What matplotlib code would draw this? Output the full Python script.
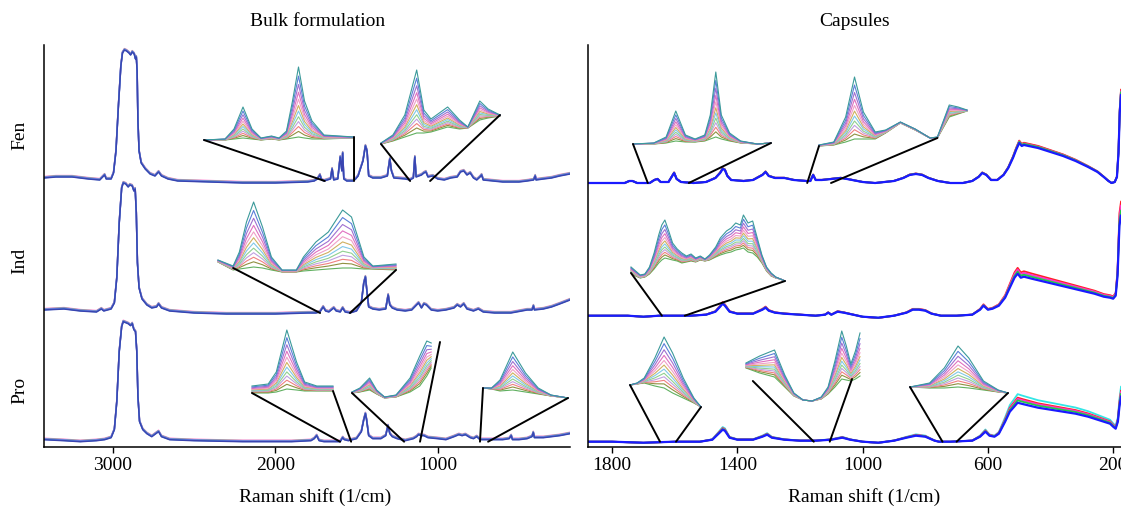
import matplotlib.pyplot as plt
import numpy as np
from matplotlib.patches import ConnectionPatch

plt.rcParams['font.family'] = ['Liberation Serif', 'DejaVu Serif']

W, H = 1121, 507

# ---------------- main spectra (wavenumber, height above baseline in px) ----------------
bulk_fen_w = [3423, 3350, 3250, 3150, 3080, 3062, 3050, 3040, 3010, 2995, 2980, 2965, 2950, 2940, 2928,
              2915, 2900, 2890, 2880, 2868, 2860, 2855, 2850, 2845, 2838, 2825, 2800, 2770, 2740, 2718,
              2700, 2660, 2600, 2400, 2200, 2000, 1800, 1760, 1740, 1725, 1715, 1700, 1660, 1650, 1640,
              1615, 1600, 1590, 1585, 1578, 1560, 1520, 1505, 1490, 1460, 1445, 1435, 1425, 1400, 1350,
              1310, 1295, 1285, 1270, 1200, 1170, 1150, 1141, 1133, 1100, 1085, 1073, 1060, 1030, 1000,
              960, 920, 880, 860, 840, 820, 800, 780, 760, 740, 730, 720, 660, 600, 500, 450, 410, 400,
              395, 350, 300, 250, 186]
bulk_fen_h = [3, 4, 4, 2, 1, 4, 6, 2, 2, 8, 30, 75, 115, 128, 131,
              130, 128, 126, 129, 127, 122, 124, 110, 60, 30, 18, 12, 7, 5, 9,
              5, 2, 0, -1, -2, -2, -1, 0, 2, 6, 1, 0, 2, 12, 1,
              2, 24, 10, 28, 2, 0, 0, 2, 5, 20, 35, 30, 5, 3, 3,
              5, 22, 10, 3, 2, 1, 3, 24, 4, 6, 8, 9, 4, 5, 2,
              1, 3, 4, 9, 10, 6, 8, 3, 1, 4, 6, 1, 0, -1, -1, 0, 1, 5,
              1, 2, 3, 5, 7]

bulk_ind_w = [3423, 3300, 3200, 3100, 3070, 3055, 3010, 2990, 2975, 2960, 2945, 2935, 2920, 2905, 2895,
              2880, 2870, 2862, 2855, 2848, 2838, 2820, 2790, 2760, 2730, 2718, 2700, 2650, 2500, 2300,
              2000, 1800, 1750, 1725, 1705, 1690, 1670, 1640, 1625, 1600, 1585, 1570, 1540, 1500, 1470,
              1455, 1445, 1438, 1425, 1400, 1360, 1320, 1305, 1295, 1280, 1250, 1200, 1160, 1130, 1118,
              1100, 1085, 1070, 1040, 1000, 950, 900, 880, 860, 840, 820, 780, 750, 720, 650, 550, 450,
              420, 411, 405, 350, 300, 250, 186]
bulk_ind_h = [3, 4, 2, 1, 4, 2, 4, 10, 35, 90, 125, 130, 129, 126, 128,
              127, 122, 124, 100, 50, 25, 14, 8, 5, 6, 9, 5, 2, 0, -1,
              -1, 0, 0, 1, 6, 2, 1, 5, 2, 1, 5, 1, 0, 2, 10,
              30, 36, 25, 6, 4, 3, 4, 18, 8, 5, 3, 2, 3, 8, 10,
              5, 9, 8, 3, 2, 3, 5, 8, 6, 9, 4, 2, 4, 1, 0, 0, 3,
              3, 7, 3, 4, 6, 9, 13]

bulk_pro_w = [3423, 3300, 3200, 3100, 3050, 3010, 2990, 2975, 2960, 2945, 2935, 2920, 2905, 2890, 2880,
              2870, 2860, 2852, 2845, 2835, 2815, 2790, 2760, 2735, 2718, 2700, 2650, 2500, 2200, 1900,
              1780, 1760, 1745, 1730, 1700, 1600, 1585, 1575, 1550, 1500, 1470, 1455, 1445, 1438, 1425,
              1400, 1350, 1320, 1306, 1295, 1280, 1250, 1200, 1150, 1130, 1118, 1100, 1085, 1060, 1000,
              950, 900, 870, 850, 830, 800, 780, 760, 740, 700, 600, 560, 548, 540, 500, 450, 420, 412,
              405, 350, 300, 250, 186]
bulk_pro_h = [2, 1, 0, 1, 2, 4, 12, 40, 90, 115, 120, 119, 118, 116, 118,
              112, 110, 90, 45, 20, 12, 8, 5, 8, 10, 5, 2, 1, 0, 0,
              1, 3, 6, 1, 0, 0, 4, 2, 1, 3, 10, 22, 28, 22, 6,
              3, 3, 6, 16, 8, 5, 3, 1, 3, 5, 7, 6, 6, 4, 3,
              2, 5, 7, 6, 7, 4, 3, 5, 2, 2, 2, 3, 6, 2, 2, 3, 5, 9,
              4, 4, 5, 6, 8]

cap_fen_w = [1877, 1800, 1760, 1745, 1735, 1720, 1680, 1665, 1655, 1645, 1620, 1610, 1602, 1594, 1580,
             1540, 1500, 1470, 1455, 1447, 1440, 1432, 1420, 1380, 1350, 1320, 1310, 1300, 1280, 1250,
             1220, 1180, 1167, 1158, 1150, 1130, 1100, 1070, 1050, 1000, 960, 900, 870, 850, 830, 810,
             790, 760, 720, 680, 650, 630, 618, 605, 590, 570, 550, 535, 520, 510, 500, 492, 485, 470,
             440, 400, 360, 320, 280, 250, 230, 215, 205, 195, 188, 183, 179, 175]
cap_fen_h = [0, 0, 0, 2, 2, 0, 0, 3, 4, 1, 1, 6, 10, 4, 1,
             0, 1, 5, 10, 14, 13, 7, 3, 2, 3, 8, 11, 7, 5, 5,
             3, 2, 2, 8, 3, 3, 4, 5, 4, 1, 0, 2, 5, 8, 9, 8,
             5, 2, 0, 0, 2, 6, 10, 8, 3, 3, 8, 15, 25, 33, 40, 37, 38, 37,
             35, 31, 27, 22, 16, 11, 6, 2, 0, 1, 6, 30, 70, 88]

cap_ind_w = [1877, 1800, 1750, 1700, 1650, 1600, 1550, 1500, 1470, 1455, 1447, 1440, 1425, 1400, 1350,
             1320, 1310, 1300, 1280, 1250, 1200, 1150, 1120, 1110, 1100, 1080, 1060, 1030, 1000, 950,
             900, 860, 840, 820, 800, 780, 750, 700, 650, 625, 614, 600, 585, 565, 545, 530, 515, 505,
             495, 485, 460, 420, 380, 340, 300, 260, 230, 210, 200, 192, 186, 180, 175]
cap_ind_h = [0, 0, 0, -1, 0, 0, 0, 1, 4, 9, 12, 10, 4, 2, 2,
             6, 8, 5, 3, 2, 1, 0, 1, 3, 1, 4, 3, 1, -1, -2,
             0, 3, 6, 6, 5, 2, 0, 0, 1, 6, 10, 6, 7, 10, 18, 28, 38, 42,
             38, 39, 37, 34, 31, 28, 25, 22, 19, 18, 17, 20, 40, 90, 100]

cap_pro_w = [1877, 1800, 1700, 1600, 1520, 1480, 1460, 1447, 1440, 1425, 1400, 1350, 1320, 1305, 1290,
             1250, 1200, 1150, 1100, 1065, 1040, 1000, 950, 900, 860, 830, 800, 770, 756, 720, 650,
             625, 608, 595, 579, 565, 545, 530, 516, 505, 493, 480, 440, 400, 360, 320, 280, 240, 210,
             200, 192, 185, 180, 175]
cap_pro_h = [0, 0, -1, 0, 0, 2, 8, 12, 11, 4, 2, 2, 5, 7, 4,
             2, 1, 1, 2, 4, 2, 0, -1, 1, 4, 6, 5, 1, 0, 0, 1,
             5, 10, 6, 5, 8, 20, 30, 35, 39, 38, 37, 34, 32, 30, 28, 25, 21, 18,
             15, 13, 20, 35, 45]

row_names = ['Fen', 'Ind', 'Pro']

# sample-to-sample spread of the overlaid spectra
bulk_colors = ['#ff77cc', '#55cc88', '#aa55ff', '#4aa0dd', '#3a44b0']
bulk_shifts = [1.4, 1.0, 0.6, 0.3, 0.0]
cap_colors = ['#33e6e6', '#ff2222', '#ff33cc', '#22cc44', '#1a1aff']
cap_gains = {'Fen': [1.05, 1.06, 1.04, 1.03, 1.0],
             'Ind': [1.08, 1.14, 1.10, 1.05, 1.0],
             'Pro': [1.22, 1.13, 1.10, 1.06, 1.0]}

# ---------------- zoomed insets: shape of lowest and highest sample ----------------
inset_levels = [1.0, 0.87, 0.75, 0.64, 0.54, 0.45, 0.37, 0.29, 0.22, 0.15, 0.08, 0.0]
inset_colors = ['#3b9a9a', '#5a7fd8', '#a070d0', '#e070c0', '#f0a0c8', '#d0b060',
                '#80c8e8', '#90d090', '#c0a0e0', '#f08080', '#909040', '#60b060']

bf1_u = [0, 0.14, 0.2, 0.26, 0.32, 0.38, 0.45, 0.5, 0.55, 0.59, 0.63, 0.67, 0.72, 0.8, 1.0]
bf1_lo = [1, 1, 2, 3, 2, 1, 2, 1, 2, 3, 4, 3, 2, 2, 3]
bf1_hi = [1, 2, 12, 34, 12, 3, 5, 3, 10, 40, 74, 40, 20, 6, 4]

bf2_u = [0, 0.1, 0.2, 0.3, 0.36, 0.42, 0.56, 0.66, 0.73, 0.83, 0.9, 1.0]
bf2_lo = [1, 4, 8, 12, 12, 13, 18, 16, 17, 25, 27, 29]
bf2_hi = [2, 10, 30, 75, 35, 26, 38, 25, 18, 44, 36, 30]

bi_u = [0, 0.085, 0.12, 0.16, 0.2, 0.25, 0.3, 0.36, 0.44, 0.48, 0.55, 0.62, 0.7, 0.75, 0.82, 0.87, 1.0]
bi_lo = [10, 2, 3, 4, 5, 4, 2, 0, 0, 1, 2, 3, 4, 4, 3, 3, 2]
bi_hi = [12, 6, 20, 50, 70, 45, 15, 2, 2, 15, 30, 40, 62, 55, 15, 6, 8]

bpa_u = [0, 0.2, 0.3, 0.43, 0.55, 0.65, 0.8, 1.0]
bpa_lo = [4, 4, 5, 8, 7, 6, 6, 6]
bpa_hi = [11, 13, 25, 67, 35, 15, 11, 11]

bpb_u = [0, 0.09, 0.2, 0.28, 0.37, 0.5, 0.66, 0.77, 0.85, 0.9]
bpb_lo = [5, 6, 8, 4, 0, 1, 6, 12, 22, 30]
bpb_hi = [6, 10, 20, 8, 1, 3, 20, 42, 57, 55]

bpc_u = [0, 0.1, 0.2, 0.35, 0.5, 0.65, 0.8, 1.0]
bpc_lo = [10, 9, 7, 8, 6, 4, 2, 0]
bpc_hi = [10, 10, 18, 46, 25, 10, 3, 0]

cfa_u = [0, 0.15, 0.24, 0.31, 0.38, 0.45, 0.52, 0.56, 0.6, 0.64, 0.7, 0.78, 0.9, 1.0]
cfa_lo = [1, 1, 2, 4, 3, 3, 4, 6, 8, 6, 4, 2, 1, 2]
cfa_hi = [1, 2, 8, 34, 10, 6, 10, 30, 73, 30, 12, 4, 1, 2]

cfb_u = [0, 0.1, 0.18, 0.24, 0.3, 0.38, 0.45, 0.55, 0.65, 0.75, 0.8, 0.88, 0.94, 1.0]
cfb_lo = [1, 2, 5, 8, 8, 8, 14, 24, 17, 9, 9, 30, 33, 36]
cfb_hi = [2, 5, 30, 70, 35, 15, 17, 25, 18, 9, 10, 42, 40, 37]

ci_u = [0, 0.03, 0.06, 0.09, 0.12, 0.15, 0.18, 0.2, 0.22, 0.245, 0.27, 0.3, 0.33, 0.36, 0.39, 0.42,
        0.45, 0.48, 0.51, 0.55, 0.58, 0.62, 0.65, 0.68, 0.71, 0.73, 0.76, 0.79, 0.82, 0.85, 0.88,
        0.91, 0.94, 0.97, 1.0]
ci_lo = [10, 7, 5, 6, 9, 14, 20, 23, 25, 24, 23, 22, 20, 21, 22, 21,
         23, 22, 23, 26, 28, 30, 31, 33, 34, 35, 31, 30, 26, 20, 12,
         7, 5, 4, 2]
ci_hi = [16, 12, 8, 9, 16, 30, 48, 58, 63, 52, 40, 34, 30, 27, 29, 25,
         27, 24, 28, 36, 45, 52, 55, 60, 58, 68, 60, 62, 45, 28, 16,
         10, 6, 4, 2]

cpa_u = [0, 0.1, 0.2, 0.35, 0.48, 0.6, 0.75, 0.9, 1.0]
cpa_lo = [23, 24, 25, 22, 20, 15, 10, 5, 1]
cpa_hi = [23, 25, 30, 50, 71, 55, 30, 10, 1]

cpb_u = [0, 0.12, 0.25, 0.34, 0.42, 0.5, 0.58, 0.66, 0.72, 0.78, 0.84, 0.88, 0.92, 0.96, 1.0]
cpb_lo = [33, 28, 24, 14, 5, 1, 0, 2, 7, 14, 22, 21, 20, 22, 25]
cpb_hi = [38, 45, 51, 26, 8, 1, 0, 4, 14, 40, 70, 55, 37, 50, 68]

cpc_u = [0, 0.2, 0.35, 0.49, 0.6, 0.75, 0.9, 1.0]
cpc_lo = [6, 5, 5, 6, 5, 3, 1, 0]
cpc_hi = [6, 10, 25, 47, 35, 12, 3, 0]

# layout in image pixels: panel, row, x-left, x-right, bottom, height, shape, connectors (u, v, wavenumber)
insets = [
    ('bulk', 'Fen', 204, 354, 141, 80, (bf1_u, bf1_lo, bf1_hi), [(0, 1, 1695), (1, 4, 1515)]),
    ('bulk', 'Fen', 381, 500, 145, 80, (bf2_u, bf2_lo, bf2_hi), [(0, 1, 1170), (1, 30, 1047)]),
    ('bulk', 'Ind', 218, 396, 272, 80, (bi_u, bi_lo, bi_hi), [(0.085, 4, 1724), (1, 2, 1540)]),
    ('bulk', 'Pro', 252, 333, 397, 75, (bpa_u, bpa_lo, bpa_hi), [(0, 4, 1601), (1, 6, 1533)]),
    ('bulk', 'Pro', 352, 440, 398, 65, (bpb_u, bpb_lo, bpb_hi), [(0, 5, 1207), (1, 56, 1109)]),
    ('bulk', 'Pro', 483, 568, 398, 55, (bpc_u, bpc_lo, bpc_hi), [(0, 10, 740), (1, 0, 690)]),
    ('cap', 'Fen', 633, 771, 145, 80, (cfa_u, cfa_lo, cfa_hi), [(0, 1, 1686), (1, 2, 1555)]),
    ('cap', 'Fen', 819, 967, 147, 80, (cfb_u, cfb_lo, cfb_hi), [(0, 1, 1177), (0.8, 9, 1101)]),
    ('cap', 'Ind', 631, 785, 283, 75, (ci_u, ci_lo, ci_hi), [(0, 10, 1641), (1, 2, 1568)]),
    ('cap', 'Pro', 630, 701, 408, 80, (cpa_u, cpa_lo, cpa_hi), [(0, 23, 1647), (1, 1, 1596)]),
    ('cap', 'Pro', 746, 860, 401, 75, (cpb_u, cpb_lo, cpb_hi), [(0.06, 20, 1156), (0.93, 22, 1105)]),
    ('cap', 'Pro', 910, 1008, 393, 55, (cpc_u, cpc_lo, cpc_hi), [(0, 6, 745), (1, 0, 700)]),
]

# ---------------- figure ----------------
fig = plt.figure(figsize=(W / 100, H / 100), dpi=100)

def px_rect(x0, y0, x1, y1):
    return [x0 / W, 1 - y1 / H, (x1 - x0) / W, (y1 - y0) / H]

ax_top, ax_bot = 45, 447
panels = {
    'bulk': dict(rect=(44, 570), xlim=(3423, 186), ticks=[3000, 2000, 1000],
                 base={'Fen': 447 - 181, 'Ind': 447 - 313, 'Pro': 447 - 441.7}),
    'cap': dict(rect=(588, 1121), xlim=(1877, 175), ticks=[1800, 1400, 1000, 600, 200],
                base={'Fen': 447 - 183, 'Ind': 447 - 315.7, 'Pro': 447 - 441.7}),
}
spectra = {
    ('bulk', 'Fen'): (bulk_fen_w, bulk_fen_h), ('bulk', 'Ind'): (bulk_ind_w, bulk_ind_h),
    ('bulk', 'Pro'): (bulk_pro_w, bulk_pro_h), ('cap', 'Fen'): (cap_fen_w, cap_fen_h),
    ('cap', 'Ind'): (cap_ind_w, cap_ind_h), ('cap', 'Pro'): (cap_pro_w, cap_pro_h),
}

axes = {}
for key, p in panels.items():
    x0, x1 = p['rect']
    ax = fig.add_axes(px_rect(x0, ax_top, x1, ax_bot))
    ax.set_xlim(*p['xlim'])
    ax.set_ylim(0, ax_bot - ax_top)
    ax.set_xticks(p['ticks'])
    ax.set_yticks([])
    for s in ['top', 'right']:
        ax.spines[s].set_visible(False)
    for s in ['left', 'bottom']:
        ax.spines[s].set_linewidth(1.1)
    ax.tick_params(axis='x', direction='out', length=4, width=1, labelsize=14, pad=3)
    axes[key] = ax
    for name in row_names:
        w, h = spectra[(key, name)]
        h = np.array(h, dtype=float)
        b = p['base'][name]
        if key == 'bulk':
            for c, s in zip(bulk_colors, bulk_shifts):
                ax.plot(w, b + s + h, color=c, lw=1.1, solid_joinstyle='round')
        else:
            for c, g in zip(cap_colors, cap_gains[name]):
                ax.plot(w, b + g * h, color=c, lw=1.6 if c == '#1a1aff' else 1.3,
                        solid_joinstyle='round')

for key, name, xl, xr, yb, hgt, (u, lo, hi), conns in insets:
    ax = axes[key]
    x0, x1 = panels[key]['rect']
    aw, ah = x1 - x0, ax_bot - ax_top
    ins = ax.inset_axes([(xl - x0) / aw, (ax_bot - yb) / ah, (xr - xl) / aw, hgt / ah])
    ins.set_xlim(0, 1)
    ins.set_ylim(0, hgt)
    ins.axis('off')
    lo = np.array(lo, dtype=float)
    hi = np.array(hi, dtype=float)
    for lev, c in zip(inset_levels[::-1], inset_colors[::-1]):
        ins.plot(u, lo + lev * (hi - lo), color=c, lw=0.8, clip_on=False)
    base = panels[key]['base'][name]
    for cu, cv, cw in conns:
        con = ConnectionPatch(xyA=(cu, cv), coordsA=ins.transData, xyB=(cw, base),
                              coordsB=ax.transData, color='black', lw=1.4)
        fig.add_artist(con)

fig.text(318 / W, 1 - 22 / H, 'Bulk formulation', ha='center', va='center', fontsize=14)
fig.text(855 / W, 1 - 22 / H, 'Capsules', ha='center', va='center', fontsize=14)
fig.text(315 / W, 1 - 497 / H, 'Raman shift (1/cm)', ha='center', va='center', fontsize=14)
fig.text(864 / W, 1 - 497 / H, 'Raman shift (1/cm)', ha='center', va='center', fontsize=14)
for name, yc in zip(row_names, [135, 261, 390]):
    fig.text(20 / W, 1 - yc / H, name, ha='center', va='center', rotation=90, fontsize=14)

fig.savefig('out.png', dpi=100)
